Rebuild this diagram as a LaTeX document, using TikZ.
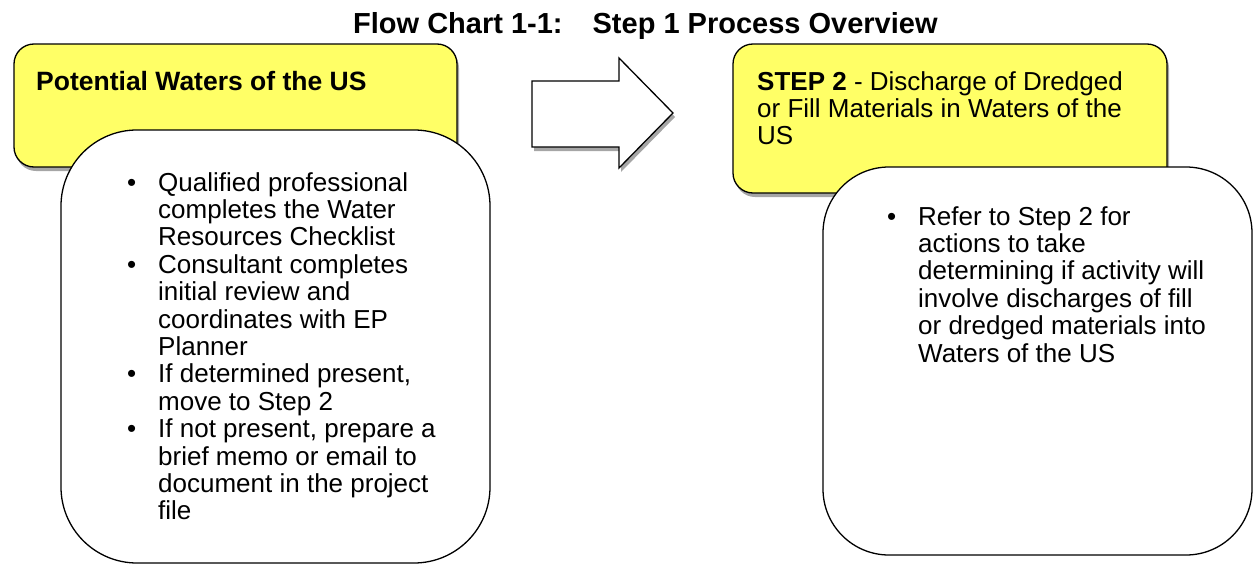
\documentclass[tikz,border=0pt]{standalone}
\usepackage{fontspec}
\setmainfont{Liberation Sans}
\usetikzlibrary{shadows}
\definecolor{boxyellow}{RGB}{255,255,102}
\newcommand\bitem{\makebox[31pt][l]{\textbullet}}
\newcommand\bcont{\hspace*{31pt}}
\newcommand\bodyfont{\fontsize{26pt}{27.4pt}\selectfont}
\begin{document}
\begin{tikzpicture}[x=1pt,y=-1pt,
  boxshadow/.style={drop shadow={shadow xshift=2pt,shadow yshift=-4pt,fill=black,opacity=0.35}},
  headbox/.style={draw=black,line width=1.3pt,fill=boxyellow,rounded corners=20pt,inner sep=0pt,boxshadow},
  notebox/.style={draw=black,line width=1.3pt,fill=white,inner sep=0pt},
  label/.style={anchor=base west,inner sep=0pt,font=\bodyfont}
]
\useasboundingbox (0,0) rectangle (1254,565);

% title
\node[label,font=\fontsize{29pt}{30pt}\selectfont\bfseries] (title) at (353,33)
  {Flow Chart 1-1:\hspace{30pt}Step 1 Process Overview};

% left column: header box and its notes
\node[headbox,minimum width=443pt,minimum height=123pt] (waters) at (235.5,105.5) {};
\node[label,font=\fontsize{26.5pt}{27.4pt}\selectfont\bfseries] (watersText) at (36,90) {Potential Waters of the US};
\node[notebox,rounded corners=76pt,minimum width=429pt,minimum height=433pt] (watersNotes) at (275.5,346.5) {};
\node[label] (watersList) at (127,191) {\parbox[t]{360pt}{\raggedright
  \bitem Qualified professional\\
  \bcont completes the Water\\
  \bcont Resources Checklist\\
  \bitem Consultant completes\\
  \bcont initial review and\\
  \bcont coordinates with EP\\
  \bcont Planner\\
  \bitem If determined present,\\
  \bcont move to Step 2\\
  \bitem If not present, prepare a\\
  \bcont brief memo or email to\\
  \bcont document in the project\\
  \bcont file}};

% block arrow between the two columns
\draw[line width=1.3pt,fill=white,line join=miter,boxshadow]
  (532,81) -- (619,81) -- (619,58) -- (673,113) -- (619,168) -- (619,147) -- (532,147) -- cycle;

% right column: header box and its notes
\node[headbox,minimum width=434pt,minimum height=149pt] (step2) at (950,118.5) {};
\node[label] (step2Text) at (757,90) {\parbox[t]{400pt}{\raggedright
  \textbf{STEP 2} - Discharge of Dredged\\
  or Fill Materials in Waters of the\\
  US}};
\node[notebox,rounded corners=66pt,minimum width=429pt,minimum height=388pt] (step2Notes) at (1037.5,361) {};
\node[label] (step2List) at (887,225) {\parbox[t]{360pt}{\raggedright
  \bitem Refer to Step 2 for\\
  \bcont actions to take\\
  \bcont determining if activity will\\
  \bcont involve discharges of fill\\
  \bcont or dredged materials into\\
  \bcont Waters of the US}};
\end{tikzpicture}
\end{document}
